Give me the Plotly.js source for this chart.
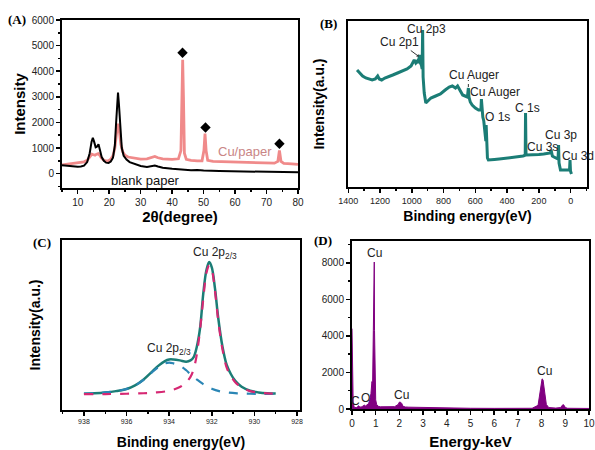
<!DOCTYPE html>
<html>
<head>
<meta charset="utf-8">
<script src="https://cdn.plot.ly/plotly-3.0.1.min.js"></script>
<style>html,body{margin:0;padding:0;background:#fff;}#chart{width:595px;height:450px;}</style>
</head>
<body>
<div id="chart"></div>
<script>
// ---------- Panel A: XRD ----------
const xrdBlankX = [5, 7, 9, 10, 11, 12, 13, 13.8, 14.4, 14.8, 15.2, 15.7, 16.1, 16.6, 17.1, 17.6, 18.3, 19, 19.8, 20.5, 21.2, 21.8, 22.2, 22.5, 22.8, 23.1, 23.5, 24, 24.6, 25.5, 26.5, 28, 30, 32, 33.5, 34.5, 35.5, 37, 40, 43, 46, 48, 50, 55, 60, 65, 70, 75, 80];
const xrdBlankY = [330, 300, 280, 270, 280, 310, 450, 800, 1250, 1400, 1250, 1030, 1050, 1150, 900, 650, 500, 430, 420, 470, 620, 1100, 2000, 2800, 3170, 2700, 1700, 1000, 700, 550, 450, 380, 300, 260, 280, 320, 280, 230, 190, 160, 130, 140, 120, 100, 85, 75, 65, 60, 55];
const xrdCuX = [5, 7, 9, 10, 11, 12, 13, 13.8, 14.5, 15, 15.5, 16, 16.5, 17, 17.5, 18.3, 19, 19.8, 20.5, 21.2, 21.8, 22.3, 22.8, 23.2, 23.7, 24.3, 25, 26, 28, 30, 32, 33.5, 34.5, 35.5, 37, 40, 42, 42.8, 43.1, 43.35, 43.6, 43.9, 44.5, 46, 48, 49.5, 50.1, 50.45, 50.8, 51.3, 53, 55, 60, 65, 70, 72.5, 73.6, 74.1, 74.6, 75.5, 78, 80];
const xrdCuY = [340, 370, 400, 420, 440, 460, 520, 650, 760, 740, 720, 760, 780, 720, 620, 520, 500, 510, 560, 700, 1000, 1550, 1950, 1700, 1150, 850, 720, 650, 600, 570, 580, 620, 670, 620, 580, 560, 580, 900, 3500, 4450, 3000, 800, 560, 520, 500, 500, 900, 1560, 900, 520, 480, 470, 450, 430, 420, 410, 480, 910, 480, 400, 380, 360];
const cuPeakX = [43.3, 50.6, 74.1];
const cuPeakY = [4720, 1800, 1170];

// ---------- Panel B: XPS survey ----------
const surveyBE = [1345, 1330, 1310, 1290, 1270, 1250, 1230, 1215, 1205, 1190, 1170, 1150, 1120, 1090, 1060, 1030, 1005, 985, 975, 965, 958, 952, 946, 940, 935, 932, 929, 922, 912, 900, 880, 850, 820, 790, 765, 745, 725, 712, 700, 690, 680, 665, 650, 644, 640, 632, 620, 600, 580, 570, 565, 562, 559, 553, 547, 541, 537, 534, 532, 529, 524, 518, 505, 480, 450, 420, 390, 360, 330, 300, 290, 286, 284, 281, 276, 260, 230, 200, 170, 140, 128, 123, 120, 115, 105, 95, 85, 79, 76, 73, 69, 64, 55, 40, 25, 12, 7, 4, 1, -5];
const surveyI = [117, 114, 111, 109, 108, 107, 108, 111, 108, 107, 109, 110, 112, 114, 116, 118, 121, 127, 124, 126, 124, 132, 124, 122, 118, 157, 110, 94, 84, 86, 89, 91, 93, 97, 100, 101, 99, 101, 97, 94, 92, 91, 90, 99, 90, 85, 82, 79, 77, 77, 77, 88, 76, 70, 66, 58, 50, 46, 62, 38, 29, 27, 27, 27.5, 28, 28.5, 29, 29.5, 30, 31, 31.5, 33, 74, 33, 32, 32, 32, 32.5, 33, 33.5, 34, 37, 33, 31, 30, 29, 28.5, 29, 42, 24, 18, 17, 17, 17, 16.5, 16.5, 17, 27, 16, 13];
const surveyLabels = ["Cu 2p3", "Cu 2p1", "Cu Auger", "Cu Auger", "O 1s", "C 1s", "Cu 3p", "Cu 3s", "Cu 3d"];
const surveyLabelBE = [910, 1066, 607, 476, 461, 269, 60, 179, -46];
const surveyLabelI = [158, 144, 112, 95, 70, 79, 52, 40, 31];

// ---------- Panel C: Cu 2p high resolution ----------
const envBE = [938, 937.5, 937, 936.5, 936, 935.6, 935.2, 934.8, 934.5, 934.2, 934.0, 933.8, 933.5, 933.2, 933.0, 932.85, 932.7, 932.55, 932.4, 932.25, 932.12, 932.0, 931.85, 931.7, 931.5, 931.3, 931.1, 930.9, 930.6, 930.2, 929.8, 929.4, 929];
const envI = [0.003, 0.006, 0.012, 0.022, 0.038, 0.065, 0.11, 0.17, 0.215, 0.25, 0.262, 0.262, 0.255, 0.245, 0.255, 0.28, 0.36, 0.5, 0.76, 0.94, 1.0, 0.96, 0.8, 0.58, 0.36, 0.22, 0.15, 0.1, 0.055, 0.025, 0.012, 0.006, 0.004];
const mainBE = [938, 937, 936, 935.2, 934.6, 934.0, 933.6, 933.3, 933.0, 932.8, 932.6, 932.4, 932.25, 932.12, 932.0, 931.85, 931.7, 931.5, 931.3, 931.1, 930.9, 930.6, 930.2, 929.8, 929.4, 929];
const mainI = [0, 0, 0.002, 0.006, 0.012, 0.025, 0.045, 0.075, 0.13, 0.22, 0.42, 0.72, 0.92, 0.975, 0.94, 0.78, 0.56, 0.34, 0.2, 0.135, 0.09, 0.05, 0.022, 0.01, 0.005, 0.003];
const satBE = [938, 937.5, 937, 936.5, 936, 935.6, 935.2, 934.8, 934.5, 934.2, 934.0, 933.8, 933.5, 933.2, 933.0, 932.7, 932.4, 932.0, 931.6, 931.2, 930.8, 930.2, 929.6, 929];
const satI = [0.003, 0.006, 0.012, 0.022, 0.038, 0.065, 0.108, 0.165, 0.205, 0.232, 0.238, 0.232, 0.215, 0.18, 0.15, 0.11, 0.075, 0.04, 0.02, 0.01, 0.005, 0.002, 0.001, 0];

// ---------- Panel D: EDS ----------
const edsKeV = [0, 0.02, 0.05, 0.1, 0.15, 0.2, 0.25, 0.28, 0.32, 0.38, 0.45, 0.5, 0.53, 0.56, 0.62, 0.7, 0.75, 0.8, 0.84, 0.87, 0.9, 0.92, 0.93, 0.94, 0.95, 0.97, 1.0, 1.04, 1.1, 1.2, 1.4, 1.6, 1.8, 1.95, 2.0, 2.05, 2.1, 2.15, 2.25, 2.4, 2.7, 3.0, 3.5, 4.0, 4.2, 4.5, 5.0, 6.0, 7.0, 7.6, 7.85, 7.92, 7.97, 8.02, 8.06, 8.1, 8.14, 8.2, 8.3, 8.6, 8.8, 8.85, 8.9, 8.95, 9.0, 9.1, 9.5, 10];
const edsCounts = [4400, 2000, 300, 80, 60, 80, 150, 180, 120, 100, 150, 200, 220, 150, 200, 300, 500, 850, 1500, 1400, 4300, 7400, 7500, 8050, 4300, 1300, 500, 250, 150, 120, 110, 110, 130, 250, 380, 370, 300, 150, 110, 100, 90, 85, 80, 70, 50, 45, 40, 35, 35, 40, 200, 900, 1400, 1650, 1600, 1250, 700, 250, 80, 50, 80, 180, 240, 200, 80, 40, 30, 30];
const edsLabels = ["Cu", "Cu", "Cu", "C", "O"];
const edsLabelKeV = [0.94, 2.07, 8.14, 0.16, 0.58];
const edsLabelCounts = [8550, 760, 2100, 420, 620];

// ---------- styling ----------
const W = 595, H = 450;
const F = "Liberation Sans, Arial, sans-serif";
const teal = "#1b7d76";
const px = v => v / W;
const py = v => 1 - v / H;

const traces = [
  {x: xrdCuX, y: xrdCuY, xaxis: "x", yaxis: "y", mode: "lines", line: {color: "#f08a8a", width: 2.8}, name: "Cu/paper"},
  {x: xrdBlankX, y: xrdBlankY, xaxis: "x", yaxis: "y", mode: "lines", line: {color: "#000", width: 2}, name: "blank paper"},
  {x: cuPeakX, y: cuPeakY, xaxis: "x", yaxis: "y", mode: "markers", marker: {symbol: "diamond", size: 8, color: "#000"}, name: "Cu"},
  {x: surveyBE, y: surveyI, xaxis: "x2", yaxis: "y2", mode: "lines", line: {color: teal, width: 3}, name: "survey"},
  {x: envBE, y: envI, xaxis: "x3", yaxis: "y3", mode: "lines", line: {color: teal, width: 2.5, shape: "spline"}, name: "envelope"},
  {x: satBE, y: satI, xaxis: "x3", yaxis: "y3", mode: "lines", line: {color: "#2b86b5", width: 2.2, dash: "dash", shape: "spline"}, name: "fit 2"},
  {x: mainBE, y: mainI, xaxis: "x3", yaxis: "y3", mode: "lines", line: {color: "#d62873", width: 2.2, dash: "dash", shape: "spline"}, name: "fit 1"},
  {x: edsKeV, y: edsCounts, xaxis: "x4", yaxis: "y4", mode: "lines", fill: "tozeroy", fillcolor: "#800080", line: {color: "#800080", width: 1}, name: "EDS"}
];

function ax(o) {
  return Object.assign({
    showline: true, mirror: true, linecolor: "#000", linewidth: 2,
    showgrid: false, zeroline: false, ticks: "outside", ticklen: 4, tickwidth: 1.5, tickcolor: "#000",
    tickfont: {family: F, size: 10, color: "#222"}
  }, o);
}
const tTitle = (t, size, standoff) => ({text: t, font: {family: F, size: size, color: "#000", weight: "bold"}, standoff: standoff});

const layout = {
  width: W, height: H,
  margin: {l: 0, r: 0, t: 0, b: 0},
  paper_bgcolor: "#fff", plot_bgcolor: "#fff",
  showlegend: false,
  xaxis: ax({domain: [px(62), px(298)], anchor: "y", range: [5, 80], dtick: 10, tick0: 0,
    minor: {dtick: 5, ticklen: 2, ticks: "outside", tickcolor: "#000"},
    title: tTitle("2θ(degree)", 15, 4)}),
  yaxis: ax({domain: [py(188), py(20)], anchor: "x", range: [-560, 6000], dtick: 1000, tick0: 0,
    minor: {dtick: 500, ticklen: 2, ticks: "outside", tickcolor: "#000"},
    title: tTitle("Intensity", 15, 3)}),
  xaxis2: ax({domain: [px(348), px(587)], anchor: "y2", range: [1402, -103], dtick: 200, tick0: 0,
    tickfont: {family: F, size: 9, color: "#222"},
    minor: {dtick: 100, ticklen: 2, ticks: "outside", tickcolor: "#000"},
    title: tTitle("Binding energy(eV)", 14, 6)}),
  yaxis2: ax({domain: [py(187), py(21)], anchor: "x2", range: [0, 166], ticks: "", showticklabels: false,
    title: tTitle("Intensity(a.u.)", 14, 18)}),
  xaxis3: ax({domain: [px(62), px(300)], anchor: "y3", range: [939.03, 927.86], dtick: 2, tick0: 928,
    tickfont: {family: F, size: 7, color: "#222"},
    minor: {dtick: 1, ticklen: 2, ticks: "outside", tickcolor: "#000"},
    title: tTitle("Binding energy(eV)", 14, 14)}),
  yaxis3: ax({domain: [py(410), py(240)], anchor: "x3", range: [-0.121, 1.167], ticks: "", showticklabels: false,
    title: tTitle("Intensity(a.u.)", 14, 16)}),
  xaxis4: ax({domain: [px(352), px(589)], anchor: "y4", range: [0, 10], dtick: 1, tick0: 0,
    minor: {dtick: 0.5, ticklen: 2, ticks: "outside", tickcolor: "#000"},
    title: tTitle("Energy-keV", 15, 10)}),
  yaxis4: ax({domain: [py(409), py(241)], anchor: "x4", range: [0, 9200], dtick: 2000, tick0: 0,
    minor: {dtick: 1000, ticklen: 2, ticks: "outside", tickcolor: "#000"}}),
  shapes: [
    {type: "line", xref: "x2", yref: "y2", x0: 644, x1: 644, y0: 100, y1: 107, line: {color: "#333", width: 1, dash: "dot"}}
  ],
  annotations: []
};

const A = layout.annotations;
const panelFont = {family: "Liberation Serif, Times New Roman, serif", size: 13, color: "#000", weight: "bold"};
[["(A)", 17, 20], ["(B)", 328, 23], ["(C)", 42, 242], ["(D)", 323, 240]].forEach(p => {
  A.push({text: p[0], xref: "paper", yref: "paper", x: px(p[1]), y: py(p[2]), xanchor: "center", yanchor: "middle", showarrow: false, font: panelFont});
});
// Panel A texts
A.push({text: "Cu/paper", xref: "x", yref: "y", x: 63, y: 870, showarrow: false, font: {family: F, size: 13, color: "#c98585"}});
A.push({text: "blank paper", xref: "x", yref: "y", x: 31.5, y: -260, showarrow: false, font: {family: F, size: 13, color: "#111"}});
// Panel B texts
surveyLabels.forEach((t, i) => {
  const a = {text: t, xref: "x2", yref: "y2", x: surveyLabelBE[i], y: surveyLabelI[i], showarrow: false, font: {family: F, size: 12, color: "#222"}};
  if (t === "Cu 2p1") {
    a.x = 952; a.y = 130; a.showarrow = true; a.ax = -20; a.ay = -15; a.arrowhead = 1; a.arrowsize = 0.6; a.arrowwidth = 1; a.arrowcolor = "#333"; a.standoff = 1;
  }
  A.push(a);
});
// Panel C texts
A.push({text: "Cu 2p<sub>2/3</sub>", xref: "x3", yref: "y3", x: 931.85, y: 1.07, showarrow: false, font: {family: F, size: 12, color: "#222"}});
A.push({text: "Cu 2p<sub>2/3</sub>", xref: "x3", yref: "y3", x: 934.0, y: 0.34, showarrow: false, font: {family: F, size: 12, color: "#222"}});
// Panel D texts
edsLabels.forEach((t, i) => {
  A.push({text: t, xref: "x4", yref: "y4", x: edsLabelKeV[i], y: edsLabelCounts[i], showarrow: false, font: {family: F, size: 12, color: "#222"}});
});

Plotly.newPlot("chart", traces, layout, {displayModeBar: false, staticPlot: true});
</script>
</body>
</html>
